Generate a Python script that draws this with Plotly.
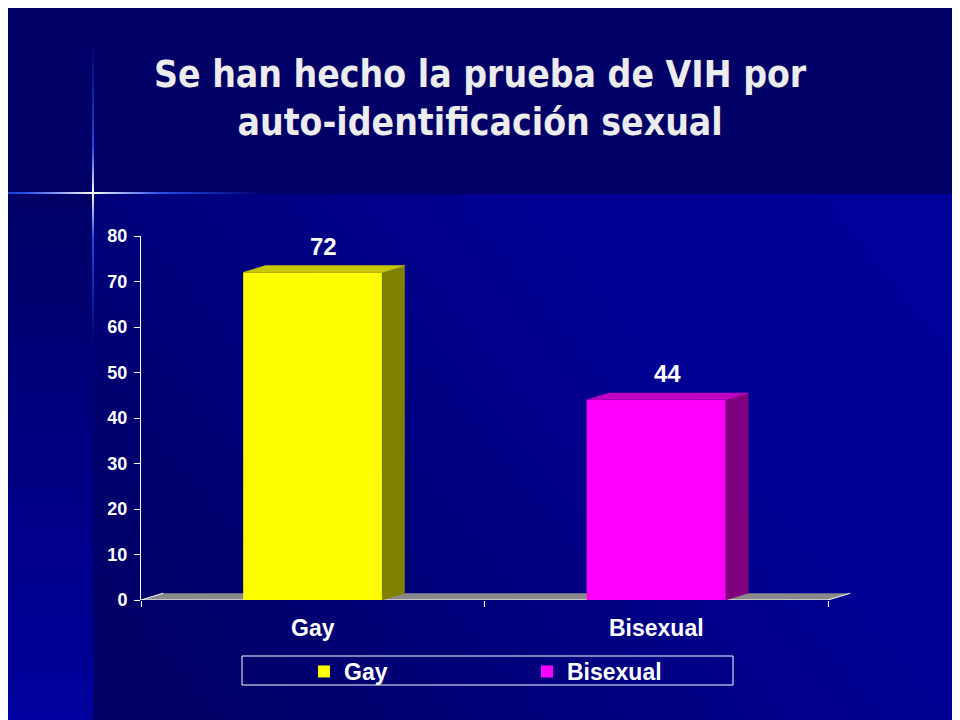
# 3D-style bar chart: HIV testing by sexual self-identification (slide look)

import base64
import plotly.graph_objects as go

# === data
categories = ["Gay", "Bisexual"]
values = [72, 44]
y_ticks = [0, 10, 20, 30, 40, 50, 60, 70, 80]
title_lines = ["Se han hecho la prueba de VIH por", "auto-identificación sexual"]

front_colors = ["#ffff00", "#ff00ff"]
side_colors = ["#808000", "#800080"]
top_colors = ["#c8c800", "#c000c0"]

# fake-3D depth, in data units
BAR_W = 0.405
DX = 0.065
DY = 1.5

W, H = 960, 720
OFF = 8  # page body margin the figure sits in


def fx(px):
    # slide pixel -> paper fraction
    return (px - OFF) / W


def fy(px):
    return 1 - (px - OFF) / H


ARIAL = "Arial, Liberation Sans, sans-serif"

# === slide background as an inline svg
bg_svg = """<svg xmlns='http://www.w3.org/2000/svg' width='960' height='720' viewBox='0 0 960 720'>
<defs>
<linearGradient id='m' x1='0' y1='0.75' x2='1' y2='0.25'>
<stop offset='0' stop-color='#000066'/><stop offset='0.7' stop-color='#000094'/><stop offset='1' stop-color='#00009a'/>
</linearGradient>
<linearGradient id='l' x1='0' y1='0' x2='0' y2='1'>
<stop offset='0' stop-color='#000066'/><stop offset='1' stop-color='#00009e'/>
</linearGradient>
<linearGradient id='v' x1='0' y1='0' x2='0' y2='1'>
<stop offset='0' stop-color='#2a5cff' stop-opacity='0'/>
<stop offset='0.35' stop-color='#2a5cff' stop-opacity='0.8'/>
<stop offset='0.5' stop-color='#ffffff'/>
<stop offset='0.65' stop-color='#2a5cff' stop-opacity='0.8'/>
<stop offset='1' stop-color='#2a5cff' stop-opacity='0'/>
</linearGradient>
<linearGradient id='h' x1='0' y1='0' x2='1' y2='0'>
<stop offset='0' stop-color='#2a5cff' stop-opacity='0'/>
<stop offset='0.3' stop-color='#2a5cff' stop-opacity='0.85'/>
<stop offset='0.5' stop-color='#ffffff'/>
<stop offset='0.7' stop-color='#2a5cff' stop-opacity='0.85'/>
<stop offset='1' stop-color='#2a5cff' stop-opacity='0'/>
</linearGradient>
</defs>
<rect width='960' height='720' fill='#000066'/>
<rect x='0' y='194' width='93' height='526' fill='url(#l)'/>
<rect x='93' y='194' width='867' height='526' fill='url(#m)'/>
<rect x='92' y='40' width='2' height='306' fill='url(#v)'/>
<rect x='-80' y='192' width='346' height='2' fill='url(#h)'/>
</svg>"""
bg_uri = "data:image/svg+xml;base64," + base64.b64encode(bg_svg.encode()).decode()

fig = go.Figure()

# front faces
for i, (cat, v) in enumerate(zip(categories, values)):
    fig.add_trace(go.Bar(
        x=[i], y=[v], width=BAR_W, name=cat,
        marker=dict(color=front_colors[i], line=dict(width=0)),
        hoverinfo="name+y"
    ))

# side and top faces
for i, v in enumerate(values):
    xl, xr = i - BAR_W / 2, i + BAR_W / 2
    fig.add_trace(go.Scatter(
        x=[xr, xr + DX, xr + DX, xr, xr], y=[0, DY, v + DY, v, 0],
        fill="toself", fillcolor=side_colors[i], mode="lines",
        line=dict(color=side_colors[i], width=0.5), showlegend=False, hoverinfo="skip"
    ))
    fig.add_trace(go.Scatter(
        x=[xl, xl + DX, xr + DX, xr, xl], y=[v, v + DY, v + DY, v, v],
        fill="toself", fillcolor=top_colors[i], mode="lines",
        line=dict(color=top_colors[i], width=0.5), showlegend=False, hoverinfo="skip"
    ))

# value labels
for i, v in enumerate(values):
    fig.add_annotation(
        x=i + DX / 2, y=v + DY, text=f"<b>{v}</b>", showarrow=False,
        yanchor="bottom", yshift=4, font=dict(family=ARIAL, size=24, color="white")
    )

# floor
x_lo, x_hi = -0.5, len(categories) - 0.5
fig.add_shape(
    type="path", xref="x", yref="y", layer="below",
    path=f"M{x_lo},0 L{x_lo + DX},{DY} L{x_hi + DX},{DY} L{x_hi},0 Z",
    fillcolor="#8a8a8a", line=dict(width=0)
)
fig.add_shape(
    type="path", xref="x", yref="y", layer="below",
    path=f"M{x_lo + DX},{DY} L{x_lo},0 L{x_hi},0 L{x_hi + DX},{DY}",
    line=dict(color="white", width=1)
)

# legend frame
fig.add_shape(
    type="rect", xref="paper", yref="paper",
    x0=fx(242), x1=fx(733), y0=fy(685), y1=fy(656),
    line=dict(color="white", width=1)
)

# title
fig.add_annotation(
    xref="paper", yref="paper", x=fx(480), y=fy(51), xanchor="center", yanchor="top",
    text="<b>" + "<br>".join(title_lines) + "</b>", showarrow=False,
    font=dict(family="DejaVu Sans Condensed, DejaVu Sans, sans-serif", size=37, color="#ececec")
)

fig.update_layout(
    width=W, height=H,
    margin=dict(l=0, r=0, t=0, b=0, autoexpand=False),
    paper_bgcolor="#000066", plot_bgcolor="rgba(0,0,0,0)",
    barmode="overlay",
    images=[dict(source=bg_uri, xref="paper", yref="paper", x=fx(0), y=fy(0),
                 sizex=1, sizey=1, xanchor="left", yanchor="top",
                 sizing="stretch", layer="below")],
    xaxis=dict(
        domain=[fx(141), fx(862.35)], range=[x_lo, x_hi + 0.1],
        tickvals=list(range(len(categories))), ticktext=categories,
        ticks="", showline=False, showgrid=False, zeroline=False,
        ticklabelstandoff=12,
        tickfont=dict(family=ARIAL, size=23, color="white", weight="bold"),
        minor=dict(tickvals=[x_lo + k for k in range(len(categories) + 1)],
                   ticks="outside", ticklen=6, tickcolor="white", tickwidth=1),
        fixedrange=True
    ),
    yaxis=dict(
        domain=[fy(600), fy(236)], range=[0, 80],
        tickvals=y_ticks, ticks="outside", ticklen=6, tickcolor="white",
        showline=True, linecolor="white", linewidth=1,
        showgrid=False, zeroline=False, ticklabelstandoff=3,
        tickfont=dict(family=ARIAL, size=18, color="white", weight="bold"),
        fixedrange=True
    ),
    showlegend=True,
    legend=dict(
        orientation="h", x=fx(304), y=fy(650), xanchor="left", yanchor="top",
        bgcolor="rgba(0,0,0,0)", borderwidth=0,
        entrywidthmode="pixels", entrywidth=178,
        font=dict(family=ARIAL, size=23, color="white", weight="bold")
    )
)

fig.write_html("out.html")
